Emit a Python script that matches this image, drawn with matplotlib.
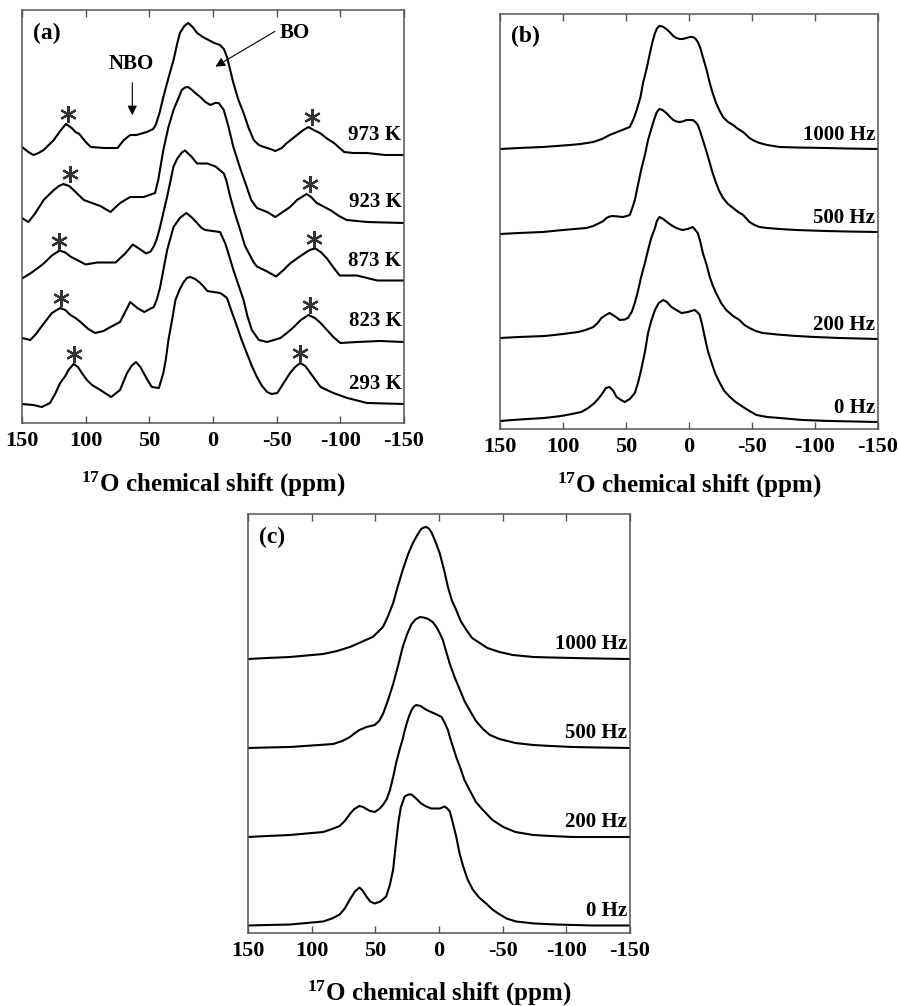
import numpy as np
import matplotlib
matplotlib.use("Agg")
import matplotlib.pyplot as plt

plt.rcParams['font.family'] = ['Liberation Serif', 'DejaVu Serif']
plt.rcParams['font.weight'] = 'bold'
plt.rcParams['mathtext.fontset'] = 'custom'
plt.rcParams['mathtext.rm'] = 'Liberation Serif:bold'
plt.rcParams['mathtext.it'] = 'Liberation Serif:bold'
plt.rcParams['mathtext.bf'] = 'Liberation Serif:bold'

# spectra: (chemical shift in ppm, intensity above baseline)
# ---------------- panel (a): temperature series ----------------
spec_973 = [(150, 8), (145, 3), (141, 0), (137, 2), (133, 5), (125, 15), (120, 24), (115.5, 31), (111, 27),
            (108, 23), (105, 21), (100, 13), (96, 8), (85, 7), (75, 7), (70, 15), (65, 20), (60, 20),
            (52, 23), (47, 26), (45, 30), (42, 42), (39, 58), (35, 77), (31, 95), (28, 112), (26, 122),
            (22.5, 129), (19.5, 132), (16, 128), (12.5, 122), (8, 118), (3.5, 115), (-1, 112), (-5.5, 110),
            (-8.5, 106), (-11, 98), (-16, 72), (-20, 55), (-24, 42), (-28, 27), (-32, 15), (-36, 10),
            (-40, 8), (-45, 6), (-49, 4), (-54, 7), (-58, 12), (-66, 20), (-71, 25), (-75, 28), (-79, 25),
            (-84, 22), (-90, 16), (-95, 12), (-103, 3), (-110, 2), (-121, 2), (-135, 0), (-150, 0)]

spec_923 = [(150, 4), (145, 0), (140, 8), (133, 22), (125, 32), (121, 36), (117.5, 38), (113, 36),
            (109.5, 32), (101.5, 22), (88.5, 16), (80.5, 10), (73, 19), (65, 25), (54.5, 25), (45.5, 29),
            (43, 42), (39, 72), (35, 95), (31, 112), (24.5, 132), (22, 134.5), (19.5, 135), (16.5, 132),
            (13, 128), (10, 125), (6, 120), (2, 117), (-1.5, 119), (-4.5, 119), (-8.5, 112), (-12, 96),
            (-16, 75), (-21, 55), (-26.5, 35), (-30, 22), (-34.5, 14), (-42.5, 10), (-49, 5), (-60.5, 15),
            (-66, 22), (-73.5, 28), (-77, 25), (-81.5, 19), (-92, 12), (-99, 6), (-105, 2), (-121, 0),
            (-150, -1)]

spec_873 = [(150, 2), (143.5, 7), (137, 13), (133, 17), (126.5, 25), (120.5, 30), (116, 28), (112, 24),
            (106, 20), (100, 16), (91, 18), (76.5, 18), (69, 27), (63, 36), (57, 31), (52.5, 27),
            (49, 29), (46.5, 34), (44, 42), (41.5, 54), (36, 84), (31, 114), (28, 122), (24.5, 128),
            (22, 130), (17, 124), (12.5, 117), (8.5, 117), (4.5, 117), (-2, 114), (-8.5, 107),
            (-10.5, 100), (-13.5, 84), (-17, 68), (-21.5, 50), (-25, 35), (-29.5, 24), (-32, 18),
            (-34.5, 14), (-42.5, 9), (-49.5, 4), (-55, 10), (-60.5, 17), (-67, 23), (-74, 29), (-77, 31),
            (-80.5, 32), (-85, 28), (-89.5, 22), (-94, 14), (-99.5, 5), (-113, 5), (-129, 0), (-150, 0)]

spec_823 = [(150, 3), (143.5, 1), (139, 7), (135, 14), (126.5, 28), (120, 33), (116, 31), (112, 26),
            (108, 23), (104, 19), (98, 12), (92.5, 8), (86, 10), (80.5, 14), (73, 19), (65, 39), (59.5, 33),
            (54, 29), (46.5, 34), (44, 42), (41.5, 54), (36, 91), (31, 114), (26, 123), (21, 128), (17, 124),
            (12.5, 118), (9, 113), (6, 111), (-5.5, 109), (-9.5, 98), (-12.5, 86), (-16, 71), (-20, 56),
            (-24, 41), (-27, 25), (-30.5, 11), (-36, 1), (-42.5, -1), (-53, 3), (-58, 8), (-63.5, 14),
            (-69, 21), (-75, 26), (-80, 23), (-84.5, 18), (-94.5, 4), (-100, -2), (-113, -1), (-131, 0),
            (-150, -1)]

spec_293 = [(150, 0), (141, -1), (134.5, -3), (128, 1), (124, 10), (120, 21), (116, 28), (113.5, 34),
            (109.5, 40), (106, 37), (103, 31), (99, 24), (95, 19), (88.5, 14), (80, 7), (73, 14),
            (67.5, 31), (64, 38), (60.5, 42), (57, 37), (54.5, 31), (51, 23), (48, 17), (42.5, 16),
            (39, 31), (37, 45), (35, 64), (32, 85), (29.5, 104), (26, 115), (23, 122), (20.5, 126),
            (18, 127), (14, 125), (10, 121), (7, 117), (4.5, 113), (-5.5, 111), (-8, 109), (-11, 106),
            (-14.5, 93), (-19, 77), (-22.5, 64), (-26.5, 51), (-30.5, 38), (-34.5, 27), (-38.5, 18),
            (-42.5, 12), (-46, 10), (-50.5, 11), (-55, 20), (-60.5, 31), (-64.5, 37), (-68.5, 41),
            (-72.5, 38), (-76.5, 31), (-80.5, 24), (-84.5, 17), (-94.5, 11), (-105.5, 6), (-121, 1),
            (-150, 0)]

temp_labels = ['973 K', '923 K', '873 K', '823 K', '293 K']
star_ppm = [[113.7, -78], [112, -76], [121, -79], [119, -76.5], [109.5, -68.5]]

# ---------------- panel (b): frequency series ----------------
spec_b1000 = [(150, 0), (135, 1), (116, 2), (105, 3), (94.5, 4), (86, 5), (76, 7), (69, 10), (63, 14),
              (55, 18), (47, 22), (44, 30), (41.5, 39), (38.5, 52), (36.5, 66), (33.5, 81), (31, 96),
              (29, 107), (27, 116), (25.5, 120.5), (23.5, 123), (21, 122.5), (18, 120), (15, 116.5),
              (12.5, 113), (10, 111), (7.5, 110), (5, 110), (2, 111), (-0.5, 112), (-3, 112), (-5, 110.5),
              (-7, 107), (-9, 101), (-11, 92), (-14, 79), (-16.5, 66), (-19, 55), (-21.5, 46), (-24, 39),
              (-27, 32), (-31, 27), (-35, 24), (-39, 20), (-43, 17), (-48, 11), (-52, 8), (-56, 6),
              (-62, 4), (-72, 2), (-85, 1.5), (-109, 1), (-125, 0.5), (-150, 0)]

spec_b500 = [(150, -2), (135, -1), (116, 0), (100, 2), (81.5, 4), (76, 6), (71, 9), (68, 11), (65.5, 14),
             (63, 15.5), (60.5, 16), (56.5, 15.5), (52.5, 15), (49.5, 16), (47, 17), (45, 24), (43, 32),
             (40.5, 47), (38, 62), (35, 77), (32.5, 92), (29.5, 105), (27, 115), (25.5, 120), (23.5, 123),
             (21, 122), (18, 119), (15, 115), (12.5, 112), (10, 110.5), (7.5, 110), (5, 110.5), (2, 112),
             (-0.5, 112), (-3, 112), (-5, 110), (-7, 107), (-9, 100), (-11, 92), (-14, 80), (-16.5, 69),
             (-19, 58), (-21.5, 49), (-24, 41), (-27, 34), (-31, 28), (-35, 24), (-39, 20), (-43, 17),
             (-48, 10), (-52, 7), (-56, 5), (-62, 4), (-72, 3), (-85, 2), (-109, 1), (-125, 0.5), (-150, 0)]

spec_b200 = [(150, 1), (135, 2), (114.5, 3), (100, 5), (88, 7), (82, 9), (76, 12), (72.5, 16), (69.5, 21),
             (66, 24), (63, 26), (60.5, 24), (58, 22), (55, 19), (51, 19.5), (48.5, 21), (45.5, 27), (43, 36),
             (40.5, 48), (38, 62), (35, 76), (32.5, 89), (30, 101), (27, 111), (25.5, 118), (23.5, 122),
             (20.5, 120), (16.5, 116), (13, 113), (10, 111), (8, 110), (5, 109), (1, 110), (-3, 112),
             (-5, 109), (-7, 106), (-9, 97), (-11, 86), (-14, 74), (-16.5, 62), (-19, 53), (-21.5, 46),
             (-25.5, 36), (-29.5, 29), (-35, 23), (-40, 19), (-44, 14), (-48, 11), (-53, 8), (-58.5, 6),
             (-70, 4.5), (-85, 3), (-100, 2), (-119.5, 1), (-150, 0)]

spec_b0 = [(150, 1), (140, 2), (128, 3), (115, 4), (101.5, 6), (93, 8), (85.5, 10), (80, 14), (75, 19),
           (71.5, 24), (68.5, 29), (66, 34), (63, 35), (60, 31), (57.5, 25), (54, 22), (51, 20), (47, 23),
           (43, 29), (40.5, 39), (38, 52), (35, 70), (32.5, 89), (30, 101), (27, 112), (24, 119),
           (20.5, 122), (17.5, 120), (14, 115), (10, 112), (6, 109), (1, 110), (-4.5, 112), (-6.5, 110),
           (-8.5, 107), (-10.5, 97), (-12.5, 85), (-15, 71), (-18, 59), (-21, 48), (-24.5, 39), (-28, 31),
           (-32.5, 25), (-37, 20), (-43, 15), (-48, 11), (-53.5, 7), (-62, 5), (-72, 4), (-90, 2),
           (-112, 1), (-150, 0)]

# ---------------- panel (c): frequency series ----------------
spec_c1000 = [(150, 0), (135, 1), (117, 2), (104, 3.5), (91, 5), (80, 8), (70, 12), (61, 17), (52, 22),
              (48, 27), (44, 32), (40, 43), (36, 56), (32.5, 72), (28.5, 89), (24.5, 104), (20.5, 116),
              (17, 124), (14, 130), (12, 131.5), (10, 132), (8, 130.5), (6, 127), (3, 118), (-0.5, 106),
              (-4, 89), (-7, 72), (-10, 59), (-13.5, 49), (-17, 38), (-21.5, 29), (-26, 21), (-32, 16),
              (-38, 11), (-47.5, 7), (-58, 4), (-74, 2), (-88, 1.5), (-105, 1), (-125, 0.5), (-150, 0)]

spec_c500 = [(150, 0), (135, 0.5), (117, 1), (100, 2.5), (83, 4), (76, 7), (70, 11), (66, 15), (62.5, 18),
             (57, 21), (53.5, 22), (50.5, 23), (47, 27), (44, 34), (40, 48), (36, 64), (32, 83), (28.5, 101),
             (25, 114), (21.5, 124), (18.5, 128.5), (15, 131), (12, 130.5), (8.5, 129), (5, 126), (2, 121),
             (-0.5, 115), (-3, 108), (-5.5, 97), (-8.5, 84), (-12.5, 70), (-16.5, 58), (-20, 47), (-24, 38),
             (-29, 27), (-34.5, 19), (-40, 13), (-47.5, 9), (-60, 5), (-74, 3), (-88, 2), (-105, 1),
             (-125, 0.5), (-150, 0)]

spec_c200 = [(150, 0), (135, 1), (117, 2), (104, 3.5), (91, 5), (84, 8), (78, 11), (74, 16), (70, 23),
             (66.5, 28), (62.5, 31), (59.5, 30), (57, 28), (54, 26), (50.5, 25), (47, 28), (44, 32), (41, 38),
             (38.5, 47), (36, 60), (33.5, 75), (31, 87), (28.5, 98), (27, 106), (25.5, 113), (23.5, 121),
             (21.5, 127), (20, 130), (18, 132), (14.5, 131), (11, 128), (8, 126), (4.5, 124), (1, 122),
             (-2, 120), (-4.5, 114), (-7, 107), (-9, 98), (-11, 90), (-13.5, 80), (-16.5, 70), (-20, 57),
             (-24, 47), (-29, 35), (-34.5, 27), (-42, 17), (-50.5, 10), (-60, 5), (-74, 2), (-88, 1),
             (-105, 0), (-125, 0), (-150, 0)]

spec_c0 = [(150, 0), (135, 0.5), (117, 1), (104, 2.5), (91, 4), (84, 7), (78, 11), (74, 17), (70, 26),
           (66, 34), (62.5, 38), (60, 35), (57, 29), (54, 24), (50.5, 22), (46, 24), (41.5, 29), (38.5, 41),
           (36, 56), (34, 80), (32, 102), (30, 118), (27, 129), (24, 131), (21.5, 131), (18, 127), (14, 122),
           (10, 119), (6, 117), (2.5, 117), (-0.5, 117), (-2.5, 118), (-4.5, 119), (-6.5, 117), (-8.5, 114),
           (-11, 102), (-13.5, 89), (-16, 73), (-19, 59), (-22.5, 46), (-26.5, 36), (-31.5, 28), (-37, 22),
           (-42, 16), (-46.5, 12), (-53, 7), (-60.5, 4), (-75, 2), (-92, 1), (-120, 0), (-150, 0)]

freq_labels = ['1000 Hz', '500 Hz', '200 Hz', '0 Hz']

panel_a = [spec_973, spec_923, spec_873, spec_823, spec_293]
panel_b = [spec_b1000, spec_b500, spec_b200, spec_b0]
panel_c = [spec_c1000, spec_c500, spec_c200, spec_c0]

# vertical stacking (pixel units of the reference)
offsets_a = [268, 201, 142.5, 82, 19]
offsets_b = [280, 197, 90, 7]
offsets_c = [274, 185, 96, 7.5]

W, H = 898, 1006
fig = plt.figure(figsize=(W / 100, H / 100), dpi=100)


def xy(spec):
    s = sorted(spec, key=lambda p: -p[0])
    return np.array([p[0] for p in s]), np.array([p[1] for p in s])


def make_axes(left, top, right, bottom):
    ax = fig.add_axes([left / W, 1 - bottom / H, (right - left) / W, (bottom - top) / H])
    ax.set_xlim(150, -150)
    ax.set_ylim(0, bottom - top)
    ax.set_xticks([150, 100, 50, 0, -50, -100, -150])
    ax.set_xticklabels(['150', '100', '50', '0', '-50', '-100', '-150'])
    ax.set_yticks([])
    ax.tick_params(axis='x', direction='in', top=True, length=5, width=1, color='#555555',
                   labelsize=16, pad=6)
    for lbl in ax.get_xticklabels():
        lbl.set_fontweight('bold')
    for s in ax.spines.values():
        s.set_color('#555555')
        s.set_linewidth(1.1)
    return ax


def draw_stack(ax, traces, offsets, labels, label_gap):
    for spec, off, lab in zip(traces, offsets, labels):
        x, y = xy(spec)
        ax.plot(x, y + off, color='black', lw=1.5, solid_joinstyle='round', solid_capstyle='round')
        ax.text(-148, off + label_gap, lab, ha='right', va='center', fontsize=15, fontweight='bold')


# (a)
ax_a = make_axes(22, 10, 404, 423)
draw_stack(ax_a, panel_a, offsets_a, temp_labels, 20)
for spec, off, stars in zip(panel_a, offsets_a, star_ppm):
    xs, ys = xy(spec)
    for sp in stars:
        near = (xs > sp - 7) & (xs < sp + 7)
        top = ys[near].max()
        ax_a.plot(sp, off + top + 10, marker=(6, 2, 0), markersize=12, mew=1.6, color='#333333')
ax_a.text(0.03, 0.944, '(a)', transform=ax_a.transAxes, ha='left', va='center', fontsize=17,
          fontweight='bold')
ax_a.annotate('', xy=(63.4, 305), xytext=(63.4, 343),
              arrowprops=dict(arrowstyle='-|>', color='black', lw=0.8, mutation_scale=14))
ax_a.text(64, 359, 'NBO', ha='center', va='center', fontsize=15, fontweight='bold')
ax_a.annotate('', xy=(0, 355), xytext=(-50.5, 393),
              arrowprops=dict(arrowstyle='-|>', color='black', lw=0.8, mutation_scale=14))
ax_a.text(-64, 390, 'BO', ha='center', va='center', fontsize=15, fontweight='bold')

# (b)
ax_b = make_axes(500, 14, 878, 429)
draw_stack(ax_b, panel_b, offsets_b, freq_labels, 14)
ax_b.text(0.03, 0.945, '(b)', transform=ax_b.transAxes, ha='left', va='center', fontsize=17,
          fontweight='bold')

# (c)
ax_c = make_axes(248, 514, 630, 933)
draw_stack(ax_c, panel_c, offsets_c, freq_labels, 15)
ax_c.text(0.03, 0.943, '(c)', transform=ax_c.transAxes, ha='left', va='center', fontsize=17,
          fontweight='bold')

xlabel = r'$^{17}$O chemical shift (ppm)'
fig.text(213 / W, 1 - 484 / H, xlabel, ha='center', va='center', fontsize=18, fontweight='bold')
fig.text(689 / W, 1 - 485 / H, xlabel, ha='center', va='center', fontsize=18, fontweight='bold')
fig.text(439 / W, 1 - 993 / H, xlabel, ha='center', va='center', fontsize=18, fontweight='bold')

fig.savefig('out.png', dpi=100)
